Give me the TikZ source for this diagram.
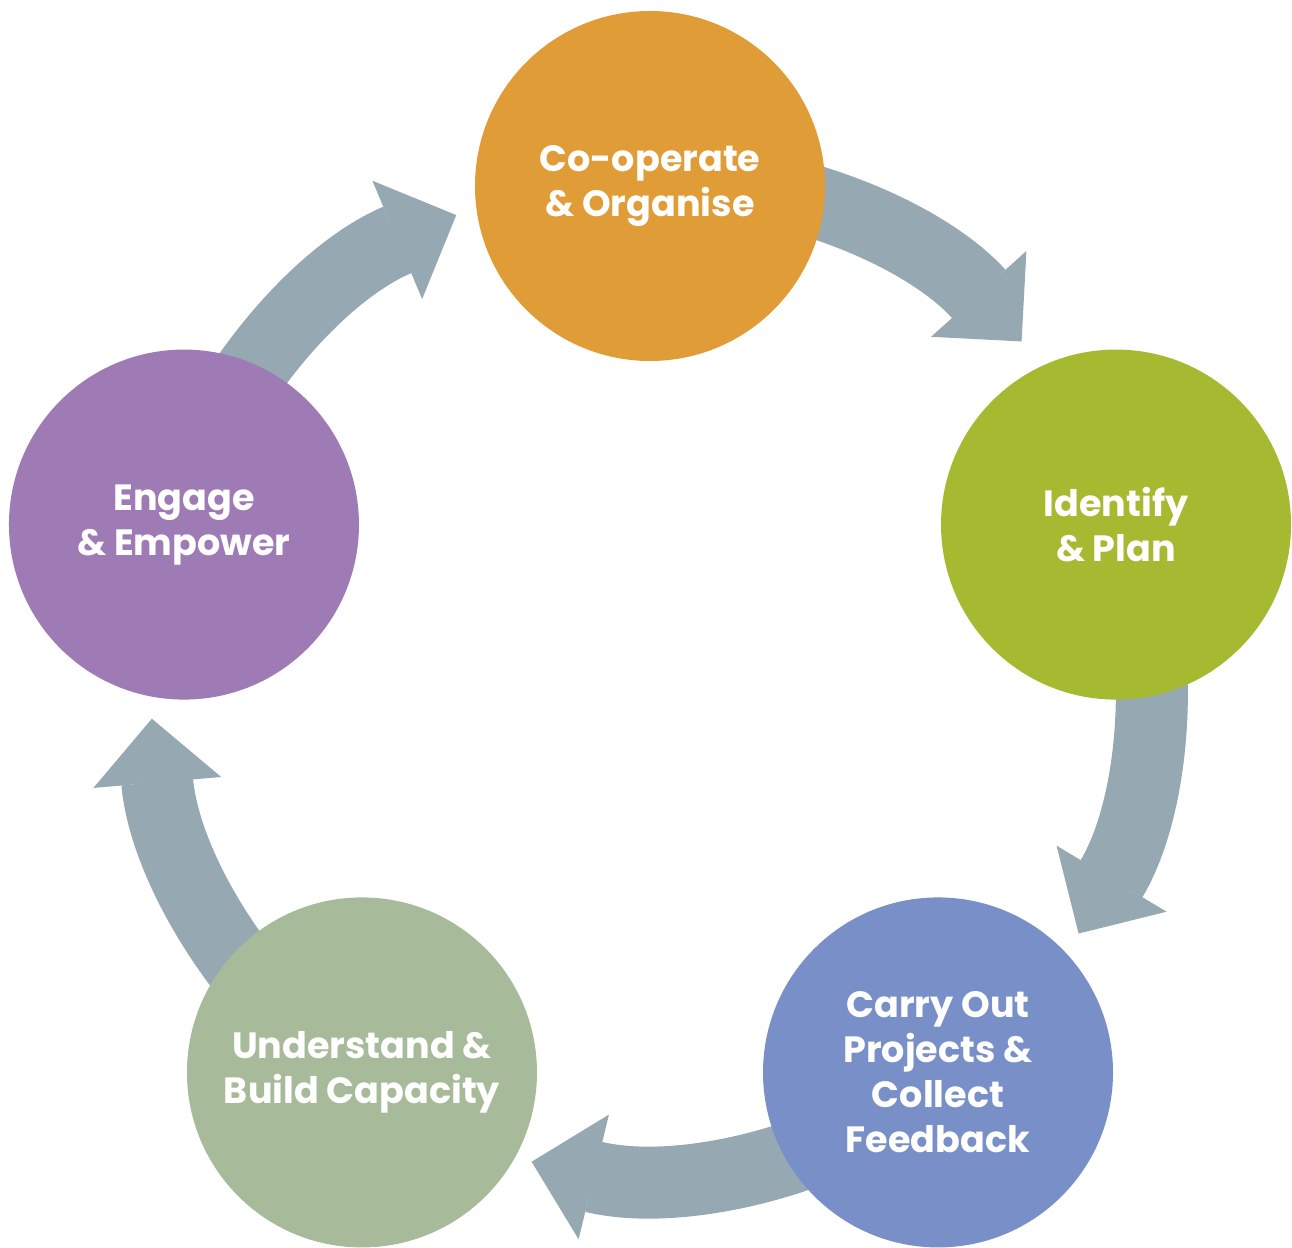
\documentclass[tikz,border=0pt]{standalone}
\usepackage{fontspec}
\setmainfont{Poppins}
\usetikzlibrary{arrows.meta}
\definecolor{coopcol}{RGB}{224,157,55}
\definecolor{identcol}{RGB}{165,186,48}
\definecolor{carrycol}{RGB}{120,144,199}
\definecolor{undercol}{RGB}{167,186,153}
\definecolor{engcol}{RGB}{158,123,181}
\definecolor{flowcol}{RGB}{150,168,177}
\pgfdeclarelayer{background}
\pgfsetlayers{background,main}

\begin{document}
\begin{tikzpicture}[
  stage/.style={circle, minimum size=7cm, inner sep=0pt, text=white, align=center,
    font=\fontsize{20.8}{25.6}\selectfont\bfseries},
  flow/.style={draw=flowcol, line width=1.44cm,
    -{Triangle[length=1.28cm, width=2.56cm, line width=1pt]}}]
  \useasboundingbox (-13,-11.42) rectangle (12.84,13.52);
  \node[stage, fill=coopcol] (coop) at (90:9.8) {Co-operate\\\& Organise};
  \node[stage, fill=identcol] (ident) at (18:9.8) {Identify\\\& Plan};
  \node[stage, fill=carrycol] (carry) at (-54:9.8) {Carry Out\\Projects \&\\Collect\\Feedback};
  \node[stage, fill=undercol] (under) at (-126:9.8) {Understand \&\\Build Capacity};
  \node[stage, fill=engcol] (engage) at (162:9.8) {Engage\\\& Empower};
  \begin{pgfonlayer}{background}
    \foreach \a/\s/\e in {coop/90/42, ident/18/-31, carry/-54/-103.7,
                          under/-126/-175.1, engage/162/112.8}
      \draw[flow] ([shift={(\s:0.2)}]\a.center) arc[start angle=\s, end angle=\e, radius=10];
  \end{pgfonlayer}
\end{tikzpicture}
\end{document}
